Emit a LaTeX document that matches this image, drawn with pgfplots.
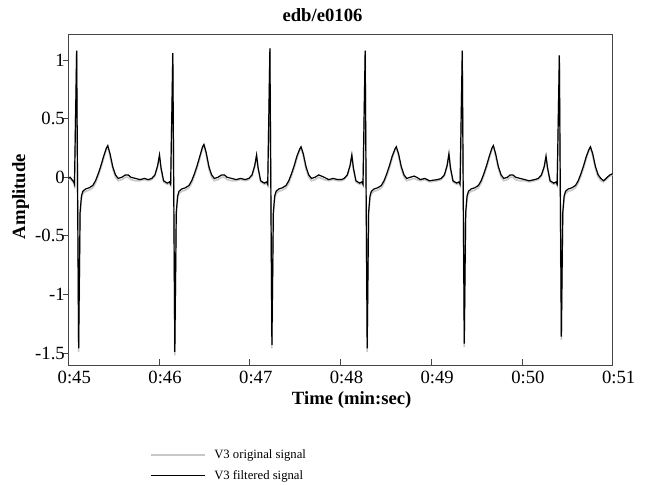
\documentclass[border=0pt]{standalone}
\usepackage{pgfplots}
\usepackage{pgfplotstable}
\pgfplotsset{compat=1.18}
\usepackage{fontspec}
\setmainfont{Liberation Serif}
\definecolor{origgray}{RGB}{200,200,200}
\definecolor{framegray}{RGB}{70,70,70}
\pgfplotstableread{
t f o
45.000 -0.01 -0.02
45.020 0.00 -0.01
45.040 -0.02 -0.03
45.060 -0.04 -0.05
45.068 -0.06 -0.07
45.092 1.08 1.08
45.114 -1.46 -1.49
45.130 -0.30 -0.32
45.145 -0.16 -0.18
45.160 -0.12 -0.14
45.190 -0.10 -0.12
45.230 -0.09 -0.11
45.270 -0.07 -0.09
45.300 -0.03 -0.05
45.330 0.03 0.01
45.360 0.10 0.08
45.390 0.18 0.16
45.420 0.25 0.24
45.435 0.27 0.26
45.460 0.20 0.18
45.490 0.09 0.07
45.520 0.02 0.00
45.550 -0.01 -0.03
45.590 0.00 -0.02
45.630 0.02 0.00
45.660 0.02 0.00
45.690 0.00 -0.02
45.740 -0.01 -0.03
45.790 -0.02 -0.03
45.840 -0.01 -0.02
45.880 -0.02 -0.03
45.920 -0.01 -0.02
45.955 0.02 0.01
45.985 0.10 0.09
46.005 0.19 0.18
46.022 0.08 0.07
46.050 -0.03 -0.04
46.090 -0.05 -0.06
46.115 -0.04 -0.05
46.128 -0.06 -0.07
46.152 1.06 1.06
46.174 -1.49 -1.52
46.190 -0.30 -0.32
46.205 -0.16 -0.18
46.220 -0.12 -0.14
46.250 -0.10 -0.12
46.290 -0.09 -0.11
46.330 -0.07 -0.09
46.360 -0.03 -0.05
46.390 0.03 0.01
46.420 0.10 0.08
46.450 0.18 0.16
46.480 0.26 0.25
46.495 0.28 0.27
46.520 0.21 0.19
46.550 0.09 0.07
46.580 0.02 0.00
46.610 -0.01 -0.03
46.650 0.00 -0.02
46.690 0.02 0.00
46.720 0.02 0.00
46.750 0.00 -0.02
46.800 -0.01 -0.03
46.850 -0.02 -0.03
46.900 -0.01 -0.02
46.950 -0.02 -0.03
46.990 -0.01 -0.02
47.025 0.02 0.01
47.055 0.10 0.09
47.075 0.19 0.18
47.092 0.08 0.07
47.120 -0.03 -0.04
47.160 -0.05 -0.06
47.185 -0.04 -0.05
47.198 -0.06 -0.07
47.222 1.10 1.10
47.244 -1.43 -1.46
47.260 -0.30 -0.32
47.275 -0.16 -0.18
47.290 -0.12 -0.14
47.320 -0.10 -0.12
47.360 -0.09 -0.11
47.400 -0.07 -0.09
47.430 -0.03 -0.05
47.460 0.03 0.01
47.490 0.10 0.08
47.520 0.18 0.16
47.550 0.24 0.23
47.565 0.26 0.25
47.590 0.20 0.18
47.620 0.09 0.07
47.650 0.02 0.00
47.680 -0.01 -0.03
47.720 0.00 -0.02
47.760 0.02 0.00
47.790 0.01 -0.01
47.820 0.00 -0.02
47.870 -0.02 -0.03
47.920 -0.01 -0.02
47.970 -0.02 -0.03
48.010 -0.02 -0.03
48.040 -0.01 -0.02
48.075 0.02 0.01
48.105 0.10 0.09
48.125 0.19 0.18
48.142 0.08 0.07
48.170 -0.03 -0.04
48.210 -0.05 -0.06
48.235 -0.04 -0.05
48.248 -0.06 -0.07
48.272 1.08 1.08
48.294 -1.46 -1.49
48.310 -0.30 -0.32
48.325 -0.16 -0.18
48.340 -0.12 -0.14
48.370 -0.10 -0.12
48.410 -0.09 -0.11
48.450 -0.07 -0.09
48.480 -0.03 -0.05
48.510 0.03 0.01
48.540 0.10 0.08
48.570 0.18 0.16
48.600 0.24 0.23
48.615 0.26 0.25
48.640 0.20 0.18
48.670 0.09 0.07
48.700 0.02 0.00
48.730 -0.01 -0.03
48.770 0.00 -0.02
48.810 0.01 -0.01
48.840 0.00 -0.02
48.880 -0.02 -0.03
48.930 -0.01 -0.02
48.980 -0.03 -0.04
49.070 -0.02 -0.03
49.110 -0.01 -0.02
49.145 0.02 0.01
49.175 0.10 0.09
49.195 0.20 0.19
49.212 0.08 0.07
49.240 -0.03 -0.04
49.280 -0.05 -0.06
49.305 -0.04 -0.05
49.318 -0.06 -0.07
49.342 1.08 1.08
49.364 -1.42 -1.45
49.380 -0.30 -0.32
49.395 -0.16 -0.18
49.410 -0.12 -0.14
49.440 -0.10 -0.12
49.480 -0.09 -0.11
49.520 -0.07 -0.09
49.550 -0.03 -0.05
49.580 0.03 0.01
49.610 0.10 0.08
49.640 0.18 0.16
49.670 0.25 0.24
49.685 0.27 0.26
49.710 0.20 0.18
49.740 0.09 0.07
49.770 0.02 0.00
49.800 -0.01 -0.03
49.840 0.00 -0.02
49.870 0.02 0.00
49.900 0.02 0.00
49.930 0.00 -0.02
49.980 -0.01 -0.03
50.030 -0.02 -0.03
50.080 -0.03 -0.04
50.140 -0.02 -0.03
50.180 -0.01 -0.02
50.215 0.02 0.01
50.245 0.09 0.08
50.265 0.18 0.17
50.282 0.08 0.07
50.310 -0.03 -0.04
50.350 -0.05 -0.06
50.375 -0.04 -0.05
50.388 -0.06 -0.07
50.412 1.04 1.04
50.434 -1.36 -1.39
50.450 -0.30 -0.32
50.465 -0.16 -0.18
50.480 -0.12 -0.14
50.510 -0.10 -0.12
50.550 -0.09 -0.11
50.590 -0.07 -0.09
50.620 -0.03 -0.05
50.650 0.03 0.01
50.680 0.10 0.08
50.710 0.18 0.16
50.740 0.24 0.23
50.755 0.26 0.25
50.780 0.20 0.18
50.810 0.09 0.07
50.840 0.02 0.00
50.870 -0.01 -0.03
50.900 -0.03 -0.04
50.940 0.00 -0.01
50.970 0.02 0.01
51.000 0.03 0.02
}\ecgdata
\begin{document}
\begin{tikzpicture}
\useasboundingbox (0bp,0bp) rectangle (649bp,485bp);
\begin{axis}[
  at={(68.3bp,120bp)}, anchor=south west,
  scale only axis, width=544.4bp, height=330.5bp,
  xmin=45, xmax=51, ymin=-1.602, ymax=1.218,
  xtick={45,46,47,48,49,50,51},
  xticklabels={0:45,0:46,0:47,0:48,0:49,0:50,0:51},
  ytick={-1.5,-1,-0.5,0,0.5,1},
  tick align=inside,
  major tick length=5.5bp,
  ytick style={xshift=-5.5bp},
  tick style={framegray, line width=0.8bp},
  axis line style={framegray, line width=1bp},
  xtick pos=bottom, ytick pos=left,
  ticklabel style={font=\fontsize{18.67bp}{22bp}\selectfont},
  xticklabel style={xshift=6bp, yshift=-3bp},
  /pgf/number format/assume math mode=true,
  legend style={at={(0.150,-0.252)}, anchor=north west, draw=none, fill=none,
    font=\fontsize{12.7bp}{15bp}\selectfont, inner sep=0pt, row sep=7bp,
    nodes={inner sep=1.5bp}},
  legend cell align=left,
  legend image code/.code={\draw[#1] (0bp,0bp) -- (54bp,0bp);},
]
\addplot[origgray, line width=1.6bp] table[x=t, y=o] {\ecgdata};
\addlegendentry{\hspace{7bp}V3 original signal}
\addplot[black, line width=1.2bp] table[x=t, y=f] {\ecgdata};
\addlegendentry{\hspace{7bp}V3 filtered signal}
\end{axis}
\node[anchor=base, font=\fontsize{18.67bp}{22bp}\selectfont\bfseries] at (322.5bp,463.5bp) {edb/e0106};
\node[anchor=base, font=\fontsize{18.67bp}{22bp}\selectfont\bfseries] at (351.7bp,80bp) {Time (min:sec)};
\node[rotate=90, anchor=center, font=\fontsize{18.67bp}{22bp}\selectfont\bfseries] at (20.7bp,288.5bp) {Amplitude};
\end{tikzpicture}
\end{document}
